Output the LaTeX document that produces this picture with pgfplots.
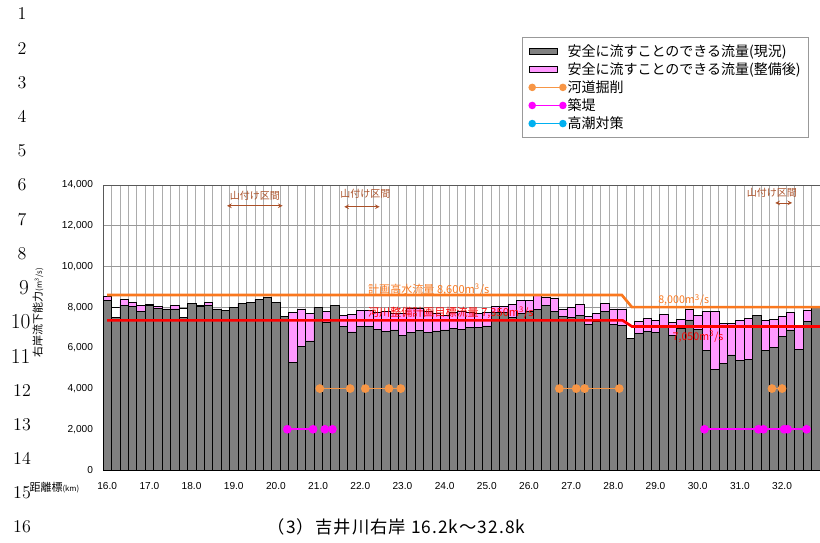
\documentclass[border=0pt]{standalone}
\usepackage{fontspec}
\usepackage{pgfplots}
\pgfplotsset{compat=1.18}
\usepackage{pgfplotstable}
\newfontfamily\arial{Liberation Sans}
\newfontfamily\cjk{Noto Sans CJK JP}
\newfontfamily\cjkwide[LetterSpace=6]{Noto Sans CJK JP}
\definecolor{barGray}{RGB}{128,128,128}
\definecolor{barPink}{RGB}{255,153,255}
\definecolor{planOrange}{RGB}{250,120,30}
\definecolor{planRed}{RGB}{255,0,0}
\definecolor{mkOrange}{RGB}{247,150,70}
\definecolor{mkMagenta}{RGB}{255,0,255}
\definecolor{mkCyan}{RGB}{0,176,240}
\definecolor{brownA}{RGB}{170,80,40}
\pgfplotsset{
  legbox/.style={legend image code/.code={\draw[##1] (0pt,-2.3pt) rectangle (21pt,2.3pt);}},
  legline/.style={legend image code/.code={\draw[##1] plot coordinates {(2pt,0pt) (25pt,0pt)};}},
}

\pgfplotstableread{
idx gray pink
0 8350 8510
1 7480 7480
2 8100 8380
3 8020 8220
4 7810 8090
5 8100 8150
6 7940 8050
7 7910 7910
8 7910 8100
9 7480 7480
10 8190 8190
11 8020 8100
12 8100 8220
13 7910 7910
14 7830 7830
15 7970 7970
16 8190 8190
17 8240 8240
18 8380 8380
19 8480 8480
20 8240 8240
21 7560 7560
22 5270 7740
23 6090 7910
24 6340 7700
25 7970 7970
26 7240 7780
27 8070 8070
28 7040 7580
29 6780 7630
30 7040 7830
31 7060 7830
32 6900 7770
33 6800 7780
34 6880 7680
35 6600 7700
36 6760 7930
37 6850 7930
38 6760 7780
39 6830 7700
40 6880 7610
41 6960 7750
42 6910 7780
43 6990 7750
44 7010 7700
45 7080 7750
46 7750 8050
47 7750 8050
48 7500 8150
49 7700 8320
50 7800 8320
51 7900 8600
52 8100 8500
53 7800 8450
54 7530 7900
55 7500 8000
56 7610 8150
57 7150 7560
58 7320 7680
59 7780 8170
60 7170 7920
61 7120 7920
62 6470 6470
63 6710 7290
64 6800 7430
65 6760 7350
66 7120 7660
67 6630 7260
68 6960 7380
69 7370 7910
70 6900 7610
71 5860 7800
72 4960 7800
73 5240 7220
74 5650 7200
75 5400 7350
76 5450 7450
77 7600 7600
78 5890 7350
79 6030 7400
80 6580 7550
81 6880 7750
82 5940 7120
83 7290 7860
84 7970 7970
}\bars

\begin{document}
\begin{tikzpicture}
\useasboundingbox (0,0) rectangle (615pt,406.5pt);
\begin{axis}[
  at={(77.25pt,54pt)}, anchor=south west,
  scale only axis, width=537.75pt, height=213.75pt,
  xmin=-0.5, xmax=84.5, ymin=0, ymax=14000,
  xtick={0,5,...,80},
  xticklabels={16.0,17.0,18.0,19.0,20.0,21.0,22.0,23.0,24.0,25.0,26.0,27.0,28.0,29.0,30.0,31.0,32.0},
  minor xtick={-0.5,0.5,...,84.5},
  ytick={0,2000,...,14000},
  scaled y ticks=false,
  /pgf/number format/1000 sep={,},
  /pgf/number format/assume math mode=true,
  ticklabel style={font=\arial\fontsize{7.6}{9}\selectfont},
  yticklabel style={xshift=-4pt},
  xticklabel style={yshift=-6pt},
  tick style={draw=none},
  xminorgrids=true, ymajorgrids=true,
  minor grid style={draw=gray!65, line width=0.5pt},
  major grid style={draw=gray!80, line width=0.6pt},
  axis line style={draw=gray!70!black, line width=0.6pt},
  legend style={at={(axis description cs:0.5844,1.5193)}, anchor=north west,
    draw=gray!80, line width=0.7pt, fill=white,
    font=\cjk\fontsize{10.5}{12}\selectfont,
    nodes={inner sep=1.2pt}, row sep=0.8pt, inner xsep=5pt, inner ysep=4pt},
  legend cell align=left,
]
\addplot[ybar, bar width=1, bar shift=0pt, fill=white, draw=black, line width=0.4pt, forget plot] coordinates {(1,8000) (9,7950)};
\addplot[ybar, bar width=1, bar shift=0pt, fill=barPink, draw=black, line width=0.4pt, forget plot] table[x=idx,y=pink]{\bars};
\addplot[ybar, bar width=1, bar shift=0pt, fill=barGray, draw=black, line width=0.4pt, forget plot] table[x=idx,y=gray]{\bars};

\addplot[planOrange, line width=2pt, forget plot] coordinates {(0,8600) (61,8600) (62.2,8000) (84.5,8000)};
\addplot[planRed, line width=2pt, forget plot] coordinates {(0,7350) (61.1,7350) (62.2,7050) (84.5,7050)};

% 河道掘削
\addplot[mkOrange, line width=1.3pt, mark=*, mark size=2.6pt, mark options={fill=mkOrange, draw=mkOrange}, forget plot] coordinates {(25.2,4000) (28.8,4000)};
\addplot[mkOrange, line width=1.3pt, mark=*, mark size=2.6pt, mark options={fill=mkOrange, draw=mkOrange}, forget plot] coordinates {(30.6,4000) (33.4,4000) (34.8,4000)};
\addplot[mkOrange, line width=1.3pt, mark=*, mark size=2.6pt, mark options={fill=mkOrange, draw=mkOrange}, forget plot] coordinates {(53.6,4000) (55.6,4000) (56.6,4000) (60.7,4000)};
\addplot[mkOrange, line width=1.3pt, mark=*, mark size=2.6pt, mark options={fill=mkOrange, draw=mkOrange}, forget plot] coordinates {(78.8,4000) (80.0,4000)};
% 築堤
\addplot[mkMagenta, line width=1.3pt, mark=*, mark size=2.6pt, mark options={fill=mkMagenta, draw=mkMagenta}, forget plot] coordinates {(21.35,2000) (24.4,2000)};
\addplot[mkMagenta, line width=1.3pt, mark=*, mark size=2.6pt, mark options={fill=mkMagenta, draw=mkMagenta}, forget plot] coordinates {(25.8,2000) (26.7,2000)};
\addplot[mkMagenta, line width=1.3pt, mark=*, mark size=2.6pt, mark options={fill=mkMagenta, draw=mkMagenta}, forget plot] coordinates {(70.8,2000) (77.2,2000)};
\addplot[mkMagenta, line width=1.3pt, mark=*, mark size=2.6pt, mark options={fill=mkMagenta, draw=mkMagenta}, forget plot] coordinates {(77.8,2000) (80.25,2000)};
\addplot[mkMagenta, line width=1.3pt, mark=*, mark size=2.6pt, mark options={fill=mkMagenta, draw=mkMagenta}, forget plot] coordinates {(80.65,2000) (82.9,2000)};

\addlegendimage{legbox, fill=barGray, draw=black, line width=0.5pt}
\addlegendentry{安全に流すことのできる流量(現況)}
\addlegendimage{legbox, fill=barPink, draw=black, line width=0.5pt}
\addlegendentry{安全に流すことのできる流量(整備後)}
\addlegendimage{legline, mkOrange, line width=1pt, mark=*, mark size=2.3pt, mark options={fill=mkOrange}}
\addlegendentry{河道掘削}
\addlegendimage{legline, mkMagenta, line width=1pt, mark=*, mark size=2.3pt, mark options={fill=mkMagenta}}
\addlegendentry{築堤}
\addlegendimage{legline, mkCyan, line width=1pt, mark=*, mark size=2.3pt, mark options={fill=mkCyan}}
\addlegendentry{高潮対策}

% annotations
\node[font=\cjk\fontsize{8.3}{9}\selectfont, text=planOrange, anchor=west, inner sep=0pt] at (axis cs:30.9,8840) {計画高水流量 8,600m\textsuperscript{3}/s};
\node[font=\cjk\fontsize{8.3}{9}\selectfont, text=planRed, anchor=west, inner sep=0pt] at (axis cs:30.9,7710) {河川整備計画目標流量 7,350m\textsuperscript{3}/s};
\node[font=\cjk\fontsize{8}{9}\selectfont, text=planOrange, anchor=west, inner sep=0pt] at (axis cs:65.3,8350) {8,000m\textsuperscript{3}/s};
\node[font=\cjk\fontsize{8}{9}\selectfont, text=planRed, anchor=west, inner sep=0pt] at (axis cs:67.0,6550) {7,050m\textsuperscript{3}/s};

\node[font=\cjk\fontsize{7.5}{8}\selectfont, text=brownA, inner sep=0pt] at (axis cs:17.5,13460) {山付け区間};
\draw[brownA, line width=0.6pt, <->, >=stealth] (axis cs:14.2,12980) -- (axis cs:20.8,12980);
\node[font=\cjk\fontsize{7.5}{8}\selectfont, text=brownA, inner sep=0pt] at (axis cs:30.6,13560) {山付け区間};
\draw[brownA, line width=0.6pt, <->, >=stealth] (axis cs:28.1,12930) -- (axis cs:32.3,12930);
\node[font=\cjk\fontsize{7.5}{8}\selectfont, text=brownA, inner sep=0pt] at (axis cs:78.8,13600) {山付け区間};
\draw[brownA, line width=0.6pt, <->, >=stealth] (axis cs:79.2,13120) -- (axis cs:81.2,13120);
\end{axis}

% y label
\node[rotate=90, inner sep=0pt] at (28.5pt,172pt) {\cjk\fontsize{8.25}{9}\selectfont 右岸流下能力{\fontsize{5.8}{6}\selectfont (m\textsuperscript{3}/s)}};
% x label
\node[anchor=west, inner sep=0pt] at (22pt,40.5pt) {\cjk\fontsize{8.25}{9}\selectfont 距離標{\fontsize{5.8}{6}\selectfont (km)}};
% title
\node[inner sep=0pt] at (297.5pt,11.25pt) {\cjkwide\fontsize{13}{15}\selectfont （3）吉井川右岸 16.2k～32.8k};

% line numbers
\begin{scope}[every node/.style={font=\fontsize{13.5}{15}\selectfont, inner sep=0pt}]
\node at (16.5pt,396pt) {1};
\node at (16.5pt,370.4pt) {2};
\node at (16.5pt,344.7pt) {3};
\node at (16.5pt,319.1pt) {4};
\node at (16.5pt,293.4pt) {5};
\node at (16.5pt,267.8pt) {6};
\node at (16.5pt,242.1pt) {7};
\node at (16.5pt,216.5pt) {8};
\node[font=\fontsize{16}{18}\selectfont] at (18pt,190.8pt) {9};
\node[font=\fontsize{16}{18}\selectfont] at (15.5pt,165.2pt) {10};
\node[font=\fontsize{16}{18}\selectfont] at (15.5pt,139.5pt) {11};
\node at (16.5pt,113.9pt) {12};
\node at (16.5pt,88.2pt) {13};
\node at (16.5pt,62.6pt) {14};
\node at (16.5pt,36.9pt) {15};
\node at (16.5pt,11.3pt) {16};
\end{scope}
\end{tikzpicture}
\end{document}
